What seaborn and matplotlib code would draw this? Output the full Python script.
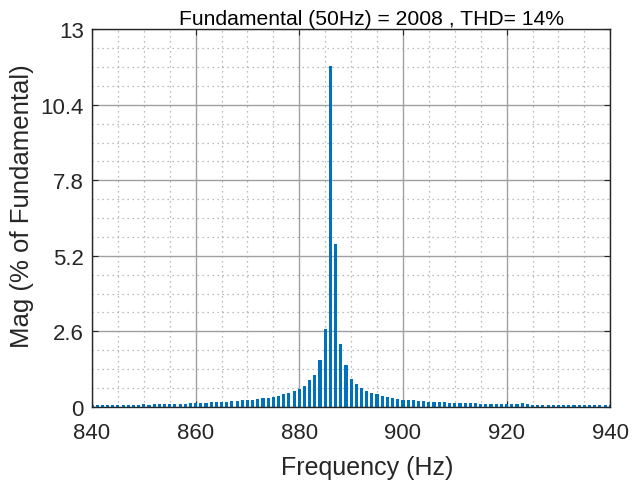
import numpy as np
import pandas as pd
import matplotlib
matplotlib.use("Agg")
import matplotlib.pyplot as plt
import seaborn as sns
from matplotlib.ticker import MultipleLocator

sns.set_style("white")
plt.rcParams['font.family'] = ['Liberation Sans', 'DejaVu Sans']

freq = list(range(840, 941))
mag = [
    # 840-849
    0.06, 0.06, 0.06, 0.07, 0.07, 0.07, 0.07, 0.08, 0.08, 0.08,
    # 850-859
    0.11, 0.08, 0.09, 0.09, 0.09, 0.10, 0.10, 0.11, 0.11, 0.12,
    # 860-869
    0.13, 0.13, 0.14, 0.15, 0.15, 0.17, 0.18, 0.19, 0.20, 0.22,
    # 870-879
    0.24, 0.25, 0.27, 0.30, 0.32, 0.35, 0.39, 0.43, 0.48, 0.53,
    # 880-889
    0.60, 0.71, 0.91, 1.10, 1.60, 2.69, 11.75, 5.61, 2.17, 1.45,
    # 890-899
    0.96, 0.77, 0.64, 0.56, 0.47, 0.45, 0.39, 0.33, 0.30, 0.26,
    # 900-909
    0.25, 0.23, 0.22, 0.20, 0.20, 0.17, 0.16, 0.15, 0.15, 0.14,
    # 910-919
    0.14, 0.13, 0.13, 0.12, 0.12, 0.11, 0.11, 0.10, 0.10, 0.10,
    # 920-929
    0.09, 0.09, 0.09, 0.13, 0.09, 0.08, 0.08, 0.08, 0.08, 0.07,
    # 930-940
    0.07, 0.07, 0.07, 0.07, 0.06, 0.06, 0.06, 0.06, 0.05, 0.05, 0.05,
]
title = "Fundamental (50Hz) = 2008 , THD= 14%"

df = pd.DataFrame({"f": freq, "m": mag})

fig = plt.figure(figsize=(6.39, 4.89), dpi=100)
ax = fig.add_axes([0.144, 0.166, 0.811, 0.772])

ax.set_axisbelow(True)
sns.barplot(data=df, x="f", y="m", native_scale=True, width=0.6,
            color="#0072BD", saturation=1, edgecolor="none", linewidth=0, ax=ax)

ax.set_xlim(840, 940)
ax.set_ylim(0, 13)
ax.xaxis.set_major_locator(MultipleLocator(20))
ax.xaxis.set_minor_locator(MultipleLocator(5))
ax.set_yticks([0, 2.6, 5.2, 7.8, 10.4, 13])
ax.set_yticklabels(["0", "2.6", "5.2", "7.8", "10.4", "13"])
ax.yaxis.set_minor_locator(MultipleLocator(0.65))

ax.grid(which="major", color="#a0a0a0", linewidth=1.0, linestyle="-")
ax.grid(which="minor", color="#a6a6a6", linewidth=0.9, linestyle=(0, (1, 3)))

for s in ax.spines.values():
    s.set_visible(True)
    s.set_color("#262626")
    s.set_linewidth(1.0)

ax.tick_params(which="major", direction="in", length=4, width=0.8,
               colors="#262626", labelsize=16, top=True, right=True,
               bottom=True, left=True)
ax.tick_params(which="minor", length=0)
ax.tick_params(axis="x", pad=11)
ax.tick_params(axis="y", pad=6)

ax.set_xlabel("Frequency (Hz)", fontsize=18, color="#262626")
ax.set_ylabel("Mag (% of Fundamental)", fontsize=18.5, color="#262626")
ax.xaxis.set_label_coords(0.531, -0.128)
ax.yaxis.set_label_coords(-0.112, 0.534)
ax.set_title(title, fontsize=15.2, color="black", pad=3.5, x=0.54)

fig.savefig("out.png", dpi=100)
